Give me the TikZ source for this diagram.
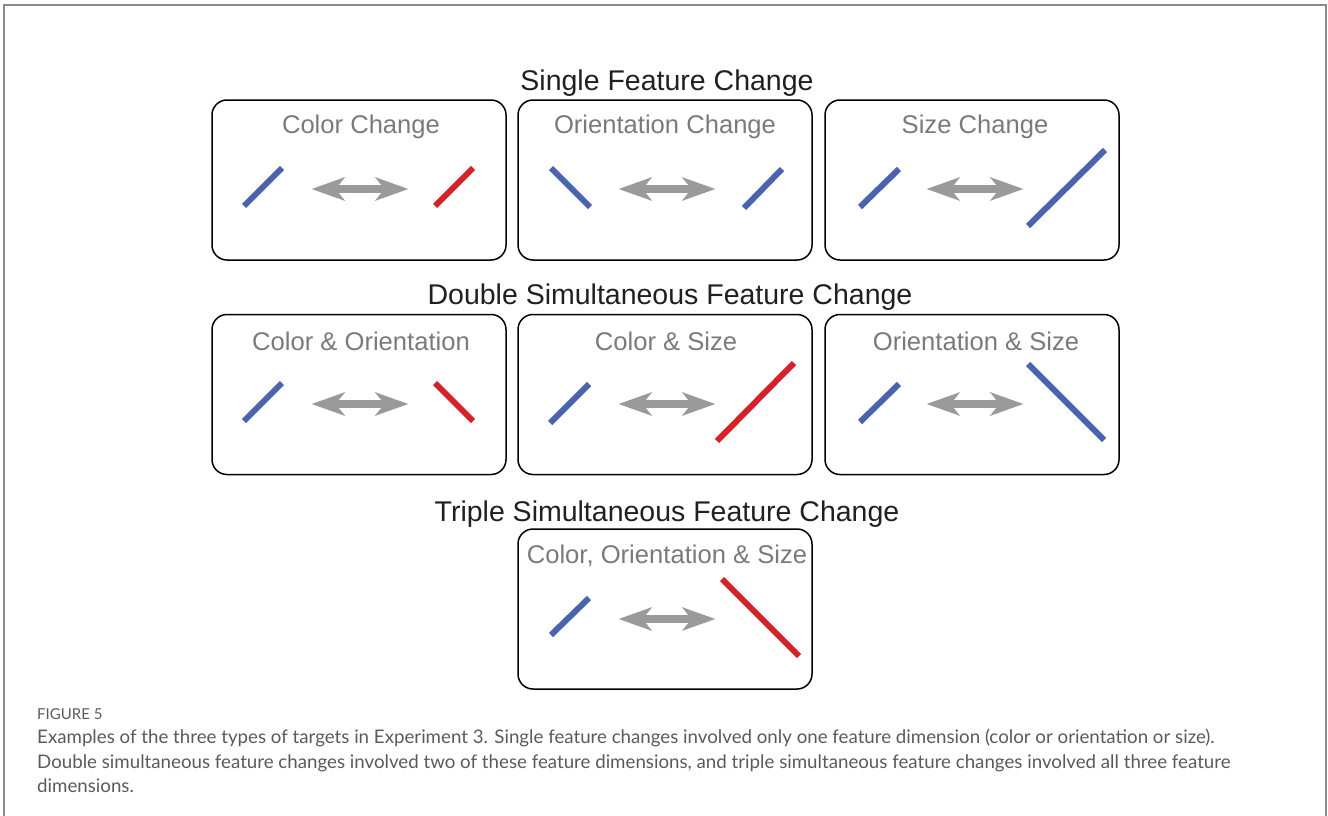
\documentclass[tikz,border=0pt]{standalone}
\usepackage{fontspec}
\setmainfont{Liberation Sans}
\newfontfamily\capfont{Lato}
\usetikzlibrary{arrows.meta}

\definecolor{barblue}{HTML}{4A63AE}
\definecolor{barred}{HTML}{D3222A}
\definecolor{arrowgray}{HTML}{9A9A9A}
\definecolor{labelgray}{HTML}{7A7A7A}
\definecolor{headdark}{HTML}{231F20}
\definecolor{framegray}{HTML}{8A8A8A}
\definecolor{captext}{HTML}{5A5A5A}

\tikzset{
  panel/.style={draw=black, line width=1.5pt, rounded corners=15pt,
    minimum width=294pt, minimum height=160pt, inner sep=0pt},
  rowhead/.style={font=\fontsize{28.5}{32}\selectfont, text=headdark, inner sep=0pt},
  paneltitle/.style={font=\fontsize{25.6}{29}\selectfont, text=labelgray, inner sep=0pt},
  bar/.style={line width=6pt, line cap=butt},
  bluebar/.style={bar, draw=barblue},
  redbar/.style={bar, draw=barred},
  twoway/.style={draw=arrowgray, line width=7.5pt,
    {Stealth[length=33pt, width=23pt, inset=9pt]}-{Stealth[length=33pt, width=23pt, inset=9pt]}},
}

% a grey double-headed arrow centred at the given point
\newcommand\swaparrow[3]{%
  \coordinate (#1l) at (#2-48,#3);
  \coordinate (#1r) at (#2+49,#3);
  \draw[twoway] (#1l) -- (#1r);
}

\begin{document}
\begin{tikzpicture}[x=1pt, y=-1pt]
\useasboundingbox (0,0) rectangle (1328,816);

% outer frame, open at the bottom
\draw[framegray, line width=2pt] (4,816) -- (4,5) -- (1326,5) -- (1326,816);

% ---------- row 1 ----------
\node[rowhead] (h1) at (667,83) {Single Feature Change};
\node[panel] (p11) at (359,180) {};
\node[panel] (p12) at (665,180) {};
\node[panel] (p13) at (972,180) {};
\node[paneltitle] (t11) at (361,127) {Color Change};
\node[paneltitle] (t12) at (665,127) {Orientation Change};
\node[paneltitle] (t13) at (975,127) {Size Change};

\draw[bluebar] (244,206) -- (282,168);
\swaparrow{a11}{359.5}{189}
\draw[redbar] (435,206) -- (473,168);

\draw[bluebar] (551,168) -- (590,207);
\swaparrow{a12}{666.5}{189}
\draw[bluebar] (744,208) -- (782,169);

\draw[bluebar] (860,207) -- (899,169);
\swaparrow{a13}{974.5}{189}
\draw[bluebar] (1028,226) -- (1105,150);

% ---------- row 2 ----------
\node[rowhead] (h2) at (670,297) {Double Simultaneous Feature Change};
\node[panel] (p21) at (359,394.5) {};
\node[panel] (p22) at (665,394.5) {};
\node[panel] (p23) at (972,394.5) {};
\node[paneltitle] (t21) at (361,341) {Color \& Orientation};
\node[paneltitle] (t22) at (666,341) {Color \& Size};
\node[paneltitle] (t23) at (976,341) {Orientation \& Size};

\draw[bluebar] (244,421) -- (282,383);
\swaparrow{a21}{359.5}{404}
\draw[redbar] (435,383) -- (473,421);

\draw[bluebar] (550,423) -- (589,384);
\swaparrow{a22}{666.5}{404}
\draw[redbar] (717,441) -- (794,363);

\draw[bluebar] (860,422) -- (899,384);
\swaparrow{a23}{974.5}{404}
\draw[bluebar] (1028,364) -- (1104,440);

% ---------- row 3 ----------
\node[rowhead] (h3) at (667,514) {Triple Simultaneous Feature Change};
\node[panel] (p31) at (665,609) {};
\node[paneltitle] (t31) at (667,556) {Color, Orientation \& Size};

\draw[bluebar] (551,635) -- (589,598);
\swaparrow{a31}{666.5}{619}
\draw[redbar] (722,579) -- (799,656);

% ---------- caption ----------
\node[anchor=west, inner sep=0pt, text=captext,
      font=\capfont\fontsize{15}{17}\selectfont] (figno) at (37,714) {FIGURE 5};
\node[anchor=north west, inner sep=0pt, align=left, text=captext,
      font=\capfont\fontsize{18.7}{24.6}\selectfont] (cap) at (37,729)
  {Examples of the three types of targets in Experiment 3. Single feature changes involved only one feature dimension (color or orientation or size).\\
   Double simultaneous feature changes involved two of these feature dimensions, and triple simultaneous feature changes involved all three feature\\
   dimensions.};
\end{tikzpicture}
\end{document}
